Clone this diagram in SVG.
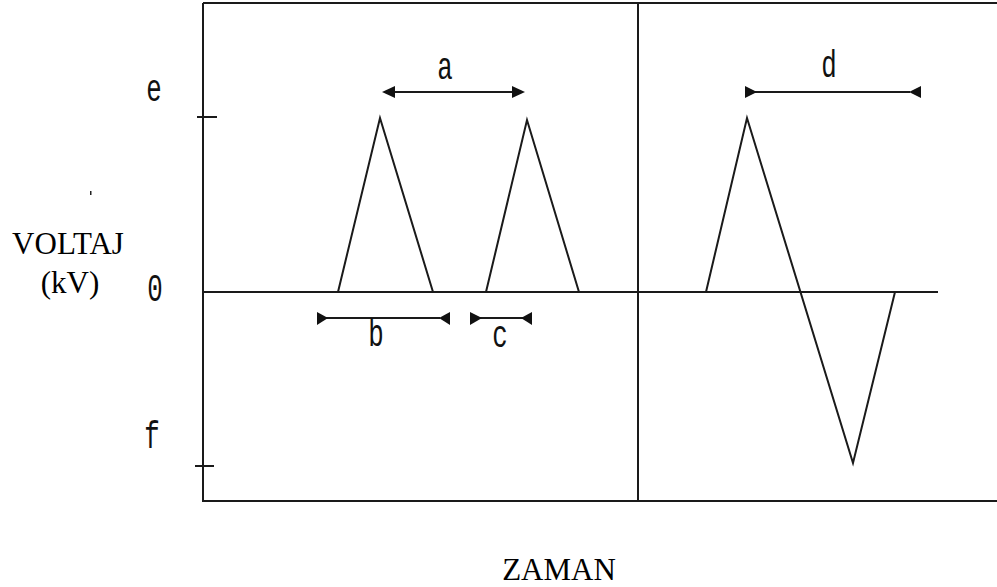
<svg xmlns="http://www.w3.org/2000/svg" width="997" height="587" viewBox="0 0 997 587">
<style>
.ln{stroke:#1a1a1a;stroke-width:2;fill:none}
.wv{stroke:#1a1a1a;stroke-width:2;fill:none;stroke-linejoin:miter}
.ah{fill:#111;stroke:none}
.lbl{font-family:"Liberation Mono","Courier New",monospace;font-size:38px;fill:#111;text-anchor:middle}
.ax{font-family:"Liberation Serif","Times New Roman",serif;font-size:31px;fill:#000;text-anchor:middle}
</style>
<rect width="997" height="587" fill="#fff"/>
<g id="frame">
<path class="ln" d="M203,3 H997 M203,3 V501 H997 M638,3 V501"/>
<path class="ln" d="M203,292 H938"/>
<path class="ln" d="M197,117 H217 M195,466 H214"/>
</g>
<g id="waveforms">
<polyline class="wv" points="338,292 380,118 433,292"/>
<polyline class="wv" points="486,292 527,120 579,292"/>
<polyline class="wv" points="706,292 747,118 853,463 895,292"/>
</g>
<g id="connectors">
<g id="dim-a">
<path class="ln" d="M392,92 H514"/>
<polygon class="ah" points="382,92 395,86 395,98"/>
<polygon class="ah" points="525,92 512,86 512,98"/>
</g>
<g id="dim-d">
<path class="ln" d="M755,92 H910"/>
<polygon class="ah" points="745,86 757,92 745,98"/>
<polygon class="ah" points="921,86 909,92 921,98"/>
</g>
<g id="dim-b">
<path class="ln" d="M326,318 H440"/>
<polygon class="ah" points="317,312 328,318 317,325"/>
<polygon class="ah" points="450,312 439,318 450,325"/>
</g>
<g id="dim-c">
<path class="ln" d="M480,318 H524"/>
<polygon class="ah" points="470,312 482,318 470,325"/>
<polygon class="ah" points="532,312 521,318 532,325"/>
</g>
</g>
<g id="labels">
<text class="lbl" transform="matrix(0.68 0 0 1 154 101)">e</text>
<text class="lbl" transform="matrix(0.68 0 0 1 155 301)">0</text>
<text class="lbl" transform="matrix(0.68 0 0 1 152 448)">f</text>
<text class="lbl" transform="matrix(0.68 0 0 1 445 79)">a</text>
<text class="lbl" transform="matrix(0.68 0 0 1 829 77)">d</text>
<text class="lbl" transform="matrix(0.68 0 0 1 376 346)">b</text>
<text class="lbl" transform="matrix(0.68 0 0 1 500 347)">c</text>
</g>
<g id="axis-labels">
<text class="ax" x="68" y="254">VOLTAJ</text>
<text class="ax" x="70" y="293">(kV)</text>
<text class="ax" x="559" y="580">ZAMAN</text>
<rect x="90" y="191" width="1.5" height="4" fill="#222"/>
</g>
</svg>
